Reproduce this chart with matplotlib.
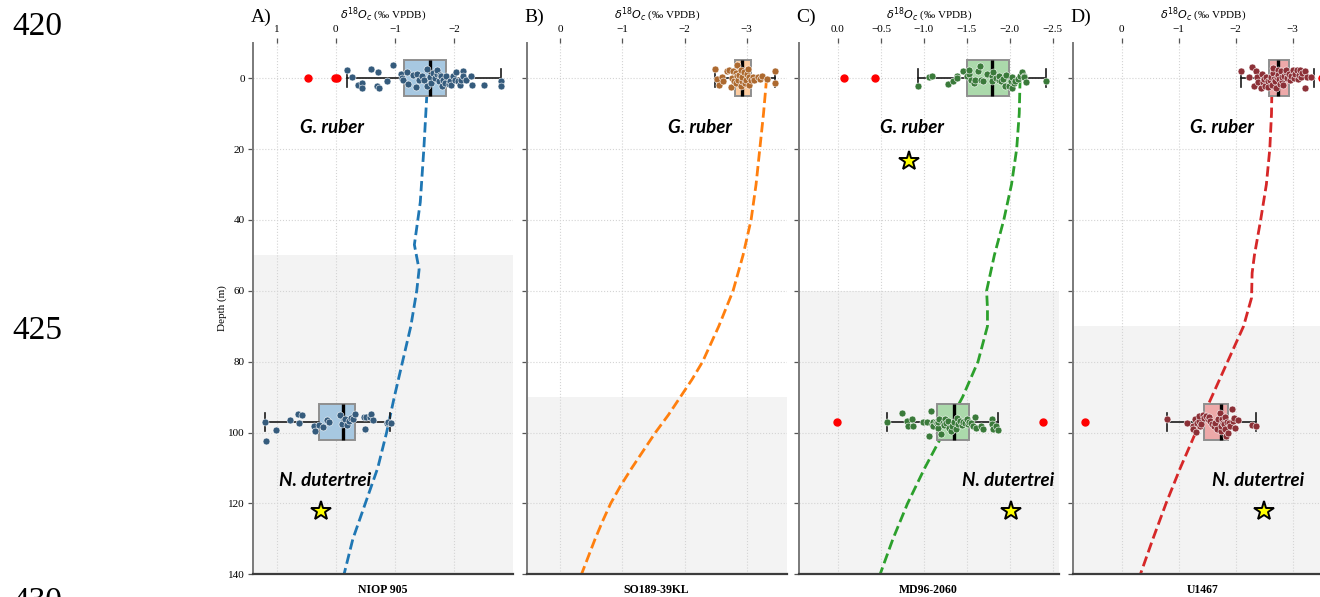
import matplotlib
matplotlib.use("Agg")
import matplotlib.pyplot as plt
import matplotlib.transforms as mtransforms

plt.rcParams['font.family'] = ['Liberation Serif', 'DejaVu Serif']
plt.rcParams['axes.unicode_minus'] = True

# ---------------------------------------------------------------- data
cores = ['NIOP 905', 'SO189-39KL', 'MD96-2060', 'U1467']
panel_letters = ['A)', 'B)', 'C)', 'D)']
line_colors = ['#1f77b4', '#ff7f0e', '#2ca02c', '#d62728']
box_colors = ['#a7c8e1', '#fdcca0', '#abd9ab', '#eda9a9']
dot_colors = ['#355b7c', '#ad692f', '#3a7a3a', '#8c3037']
shade_top = [50, 90, 60, 70]          # depth where the grey band starts (m)
ruber_depth = 0
dutertrei_depth = 97

# predicted equilibrium d18Oc profiles
depth_a = [0, 5, 20, 35, 47, 54, 60, 70, 80, 90, 100, 110, 120, 130, 140]
d18o_a = [-1.55, -1.54, -1.49, -1.43, -1.33, -1.41, -1.37, -1.27, -1.13,
          -0.99, -0.86, -0.71, -0.50, -0.29, -0.14]
depth_b = [0, 10, 20, 30, 40, 50, 60, 70, 80, 85, 90, 95, 100, 105, 110,
           115, 120, 125, 130, 135, 140]
d18o_b = [-3.32, -3.27, -3.21, -3.15, -3.07, -2.94, -2.78, -2.55, -2.29,
          -2.12, -1.93, -1.74, -1.53, -1.34, -1.15, -0.97, -0.81, -0.68,
          -0.56, -0.45, -0.34]
depth_c = [0, 10, 20, 30, 40, 50, 60, 65, 70, 80, 90, 100, 110, 120, 130, 140]
d18o_c = [-2.12, -2.11, -2.08, -2.02, -1.93, -1.82, -1.73, -1.74, -1.74,
          -1.63, -1.45, -1.23, -1.01, -0.81, -0.64, -0.49]
depth_d = [0, 10, 20, 30, 40, 50, 55, 62, 70, 80, 90, 100, 110, 120, 130, 140]
d18o_d = [-2.64, -2.63, -2.60, -2.54, -2.44, -2.33, -2.29, -2.28, -2.14,
          -1.86, -1.58, -1.30, -1.03, -0.78, -0.55, -0.33]

# box statistics: whislo, q1, med, q3, whishi
ruber_stats = [
    [-2.79, -1.86, -1.59, -1.16, -0.19],
    [-3.46, -3.07, -2.92, -2.81, -2.49],
    [-2.42, -1.99, -1.79, -1.50, -0.93],
    [-3.38, -2.94, -2.75, -2.58, -2.09],
]
ruber_outliers = [[0.47, 0.02, -0.02], [], [-0.07, -0.43], [-3.51]]
dutertrei_stats = [
    [-0.92, -0.33, -0.13, 0.28, 1.20],
    None,
    [-1.86, -1.53, -1.35, -1.15, -0.57],
    [-2.35, -1.86, -1.74, -1.44, -0.79],
]
dutertrei_outliers = [[], [], [0.01, -2.39], [0.65]]

# individual measurements (d18O) and their vertical spread (m)
ruber_a = [-0.19, -0.28, -0.37, -0.44, -0.45, -0.60, -0.69, -0.74, -0.72, -0.87,
           -0.96, -1.10, -1.12, -1.14, -1.20, -1.23, -1.31, -1.38, -1.36, -1.40,
           -1.46, -1.49, -1.54, -1.55, -1.59, -1.61, -1.65, -1.68, -1.71, -1.72,
           -1.74, -1.76, -1.78, -1.80, -1.82, -1.85, -1.87, -1.91, -1.94, -1.95,
           -1.99, -2.02, -2.04, -2.07, -2.10, -2.12, -2.16, -2.16, -2.21, -2.29,
           -2.31, -2.50, -2.79, -2.79]
ruber_a_dy = [-2.2, -0.2, 2.0, 1.4, 2.8, -2.5, 2.3, 2.8, -1.6, 0.9,
              -3.7, -1.2, 0.0, 0.6, -1.7, 1.6, -1.0, -1.3, 2.5, 0.5,
              -0.7, 0.5, -2.6, 2.2, -0.3, 1.4, -1.4, 0.1, -1.2, -2.2,
              0.8, -0.9, -0.5, 2.1, 0.5, 1.4, -0.7, 1.6, 0.7, 2.0,
              -0.5, 0.5, -1.6, 0.9, 1.9, 0.5, -1.9, -0.7, 0.5, -0.7,
              1.9, 1.9, 0.8, 2.2]
dutertrei_a = [1.20, 1.18, 1.01, 0.77, 0.64, 0.63, 0.57, 0.36, 0.35, 0.28,
               0.21, 0.15, 0.11, -0.07, -0.11, -0.15, -0.19, -0.23, -0.25, -0.30,
               -0.33, -0.47, -0.51, -0.50, -0.58, -0.60, -0.63, -0.86, -0.89, -0.93]
dutertrei_a_dy = [0.0, 5.5, 2.3, -0.6, -2.2, 0.4, -1.9, 1.1, 2.5, 0.8,
                  1.5, -0.4, 0.0, -1.9, 0.5, -0.7, 0.8, -0.3, -1.2, -0.9,
                  -2.2, -1.5, -1.4, 1.9, -1.5, -2.1, -0.5, 0.4, 0.0, 0.2]

ruber_b = [-2.49, -2.52, -2.56, -2.60, -2.61, -2.68, -2.72, -2.74, -2.76, -2.78,
           -2.80, -2.82, -2.83, -2.84, -2.85, -2.86, -2.88, -2.90, -2.91, -2.92,
           -2.93, -2.95, -2.97, -2.99, -3.00, -3.02, -3.03, -3.04, -3.07, -3.10,
           -3.12, -3.18, -3.21, -3.25, -3.32, -3.46, -3.46]
ruber_b_dy = [-2.6, 0.3, 1.8, -0.3, 0.9, -2.1, -2.3, 2.5, 0.0, -1.9,
              0.7, -1.4, 1.4, -0.7, -3.8, 0.5, -0.9, 2.3, -2.3, 0.9,
              -0.3, -1.6, 1.4, 0.5, -1.2, -2.5, 1.9, -0.3, 0.5, -0.3,
              0.5, -0.3, 0.3, -0.5, 0.3, -2.0, 1.4]

ruber_c = [-0.93, -1.06, -1.10, -1.28, -1.34, -1.38, -1.39, -1.46, -1.50, -1.52,
           -1.53, -1.55, -1.58, -1.60, -1.63, -1.65, -1.66, -1.69, -1.73, -1.79,
           -1.79, -1.81, -1.84, -1.88, -1.88, -1.90, -1.92, -1.94, -1.96, -1.99,
           -2.01, -2.02, -2.03, -2.05, -2.06, -2.09, -2.12, -2.14, -2.16, -2.17,
           -2.19, -2.42]
ruber_c_dy = [2.3, -0.3, -0.7, 1.6, 0.8, -0.7, 0.1, -1.9, -0.7, -1.2,
              -2.3, 0.5, 1.4, 0.5, -1.9, -3.5, 0.5, 0.9, -1.2, -0.5,
              0.9, -1.6, 0.0, 0.5, -0.5, 0.9, 0.3, 2.2, -0.9, 2.3,
              0.7, -0.3, 2.8, 1.4, 0.7, 0.3, -0.5, -1.6, -0.7, -0.3,
              1.2, 0.7]
dutertrei_c = [-0.57, -0.74, -0.80, -0.82, -0.86, -0.87, -0.99, -1.04, -1.06, -1.08,
               -1.09, -1.11, -1.11, -1.14, -1.15, -1.17, -1.17, -1.18, -1.20, -1.22,
               -1.23, -1.24, -1.26, -1.28, -1.29, -1.31, -1.33, -1.35, -1.37, -1.39,
               -1.40, -1.42, -1.44, -1.46, -1.48, -1.50, -1.51, -1.53, -1.55, -1.57,
               -1.59, -1.61, -1.67, -1.69, -1.79, -1.79, -1.81, -1.84, -1.86]
dutertrei_c_dy = [0.0, -2.6, -0.3, 1.1, -0.9, 1.1, 0.0, 0.0, 4.1, -3.0,
                  0.7, 0.0, 1.1, 0.0, 0.4, 1.6, 0.0, -0.9, 3.5, 0.2,
                  0.9, -0.9, 0.4, -0.3, 1.6, 2.5, 1.1, 0.0, 2.1, -1.2,
                  0.5, -0.3, 0.9, 0.0, 0.4, -0.8, 0.7, 0.0, 0.2, 1.1,
                  -1.5, 1.6, 1.1, 1.9, -0.8, 0.7, 2.1, 1.1, 2.3]

ruber_d = [-2.09, -2.24, -2.29, -2.32, -2.36, -2.38, -2.39, -2.44, -2.47, -2.48,
           -2.50, -2.52, -2.54, -2.56, -2.57, -2.60, -2.62, -2.63, -2.65, -2.66,
           -2.68, -2.69, -2.71, -2.72, -2.74, -2.75, -2.76, -2.78, -2.79, -2.81,
           -2.82, -2.84, -2.85, -2.88, -2.89, -2.91, -2.94, -2.95, -2.98, -3.01,
           -3.03, -3.05, -3.07, -3.09, -3.11, -3.13, -3.15, -3.17, -3.21, -3.22,
           -3.26, -3.32]
ruber_d_dy = [-2.1, -0.3, -3.1, 2.2, -2.1, -0.3, 1.0, 2.9, -1.2, 1.2,
              0.3, 2.2, -0.3, 0.9, 2.6, 0.5, -0.2, 1.9, -1.4, -2.8,
              0.3, 0.9, 2.8, -0.3, -2.3, -0.9, 0.3, 1.6, -1.9, 0.7,
              -0.3, 1.9, -0.7, -1.6, -2.2, 0.0, -1.2, 0.5, -0.7, -2.2,
              0.0, -1.2, -2.2, 0.3, -0.9, -2.2, -0.3, -1.4, -1.9, 2.9,
              -0.2, -0.3]
dutertrei_d = [-0.79, -1.15, -1.25, -1.26, -1.28, -1.31, -1.32, -1.35, -1.36, -1.38,
               -1.39, -1.42, -1.44, -1.48, -1.51, -1.54, -1.55, -1.58, -1.62, -1.64,
               -1.68, -1.69, -1.72, -1.74, -1.75, -1.76, -1.78, -1.79, -1.81, -1.82,
               -1.84, -1.85, -1.86, -1.89, -1.91, -1.94, -1.95, -1.97, -1.99, -2.04,
               -2.29, -2.35]
dutertrei_d_dy = [-0.9, 0.2, 1.1, 2.1, -0.8, 2.8, 0.4, -0.3, -1.7, 1.1,
                  0.7, -1.9, -1.2, -1.7, -0.9, -1.5, -0.3, 0.7, 1.1, 0.2,
                  2.1, -0.8, -2.4, 2.5, 1.1, -0.9, 0.2, 0.7, -1.5, 2.1,
                  4.1, 0.0, 3.0, 0.4, 1.1, -3.6, -0.3, -1.2, 1.6, -0.6,
                  0.9, 1.1]

# per-panel containers
profiles = [(depth_a, d18o_a), (depth_b, d18o_b), (depth_c, d18o_c), (depth_d, d18o_d)]
ruber_points = [(ruber_a, ruber_a_dy), (ruber_b, ruber_b_dy),
                (ruber_c, ruber_c_dy), (ruber_d, ruber_d_dy)]
dutertrei_points = [(dutertrei_a, dutertrei_a_dy), None,
                    (dutertrei_c, dutertrei_c_dy), (dutertrei_d, dutertrei_d_dy)]

x_limits = [(1.40, -2.99), (0.537, -3.64), (0.454, -2.567), (0.852, -3.70)]
x_ticks = [[1, 0, -1, -2], [0, -1, -2, -3],
           [0.0, -0.5, -1.0, -1.5, -2.0, -2.5], [0, -1, -2, -3]]
y_ticks = [0, 20, 40, 60, 80, 100, 120, 140]

# species labels: (axes-fraction x, depth)
ruber_label_pos = [(0.305, 14), (0.668, 14), (0.435, 14), (0.573, 14)]
dutertrei_label_pos = [(0.278, 113.5), None, (0.804, 113.5), (0.712, 113.5)]
# stars marking calcification depth estimates (d18O, depth)
star_points = [[(0.25, 122)], [], [(-0.83, 23.4), (-2.01, 122)], [(-2.49, 122)]]

# ---------------------------------------------------------------- figure
W, H = 1320, 597
fig = plt.figure(figsize=(W / 100, H / 100), dpi=100)
lefts = [253, 527, 799, 1073]
ax_w, ax_top, ax_bot = 259.5, 42.7, 574.3


def draw_box(ax, stats, fliers, pos, color):
    st = dict(whislo=stats[0], q1=stats[1], med=stats[2], q3=stats[3],
              whishi=stats[4], fliers=fliers)
    kw = dict(positions=[pos], widths=10, patch_artist=True, manage_ticks=False,
              showfliers=True, zorder=3,
              boxprops=dict(facecolor=color, edgecolor='#8f8f8f', linewidth=1.4),
              medianprops=dict(color='black', linewidth=2.4),
              whiskerprops=dict(color='#1a1a1a', linewidth=1.2),
              capprops=dict(color='#1a1a1a', linewidth=1.2),
              flierprops=dict(marker='o', markerfacecolor='red',
                              markeredgecolor='red', markersize=5))
    try:
        ax.bxp([st], orientation='horizontal', **kw)
    except TypeError:
        ax.bxp([st], vert=False, **kw)


for i in range(4):
    ax = fig.add_axes([lefts[i] / W, 1 - ax_bot / H, ax_w / W, (ax_bot - ax_top) / H])
    ax.set_xlim(*x_limits[i])
    ax.set_ylim(140, -10)

    ax.axhspan(shade_top[i], 140, color='#f3f3f3', zorder=0, lw=0)
    ax.set_axisbelow(True)
    ax.grid(True, ls=':', color='#d4d4d4', lw=0.8)

    depth, d18o = profiles[i]
    ax.plot(d18o, depth, ls='--', color=line_colors[i], lw=2, zorder=2)

    draw_box(ax, ruber_stats[i], ruber_outliers[i], ruber_depth, box_colors[i])
    vals, dy = ruber_points[i]
    ax.scatter(vals, [ruber_depth + d for d in dy], s=25, color=dot_colors[i],
               edgecolor='white', linewidth=0.4, zorder=4)
    if dutertrei_stats[i] is not None:
        draw_box(ax, dutertrei_stats[i], dutertrei_outliers[i], dutertrei_depth,
                 box_colors[i])
        vals, dy = dutertrei_points[i]
        ax.scatter(vals, [dutertrei_depth + d for d in dy], s=25,
                   color=dot_colors[i], edgecolor='white', linewidth=0.4, zorder=4)

    blend = mtransforms.blended_transform_factory(ax.transAxes, ax.transData)
    lab_font = dict(family=['Lato', 'DejaVu Sans'], weight='bold', style='italic',
                    size=13.5, ha='center', va='center', zorder=6)
    rx, ry = ruber_label_pos[i]
    ax.text(rx, ry, 'G. ruber', transform=blend, **lab_font)
    if dutertrei_label_pos[i] is not None:
        dx, dyl = dutertrei_label_pos[i]
        ax.text(dx, dyl, 'N. dutertrei', transform=blend, **lab_font)
    for sx, sy in star_points[i]:
        ax.plot(sx, sy, marker='*', ms=15, mfc='#ffff00', mec='black', mew=1.4,
                zorder=7, clip_on=False)

    # axes decoration
    ax.xaxis.tick_top()
    ax.xaxis.set_label_position('top')
    ax.set_xticks(x_ticks[i])
    if i == 2:
        ax.set_xticklabels([f'{t:.1f}'.replace('-', '\u2212') for t in x_ticks[i]])
    ax.set_yticks(y_ticks)
    ax.tick_params(axis='both', labelsize=8, length=3.5, width=0.9, color='#555555',
                   pad=2.5)
    if i > 0:
        ax.tick_params(axis='y', labelleft=False)
    else:
        ax.set_ylabel('Depth (m)', fontsize=8, labelpad=1)
    ax.set_xlabel(r'$\delta^{18}O_c$ (‰ VPDB)', fontsize=8, labelpad=5)
    for side in ('top', 'right'):
        ax.spines[side].set_visible(False)
    ax.spines['left'].set_color('#7a7a7a')
    ax.spines['left'].set_linewidth(1.4)
    ax.spines['bottom'].set_color('#3c3c3c')
    ax.spines['bottom'].set_linewidth(1.6)

    ax.text(-0.01, 1.0 + 25 / (ax_bot - ax_top), panel_letters[i],
            transform=ax.transAxes, fontsize=14, ha='left', va='center')
    ax.text(0.5, -16 / (ax_bot - ax_top), cores[i], transform=ax.transAxes,
            fontsize=8.5, fontweight='bold', ha='center', va='center')

# manuscript line numbers in the margin
for num, ypix in [('420', 27), ('425', 331), ('430', 602)]:
    fig.text(12 / W, 1 - ypix / H, num, fontsize=24, ha='left', va='center')

fig.savefig('out.png', dpi=100)
